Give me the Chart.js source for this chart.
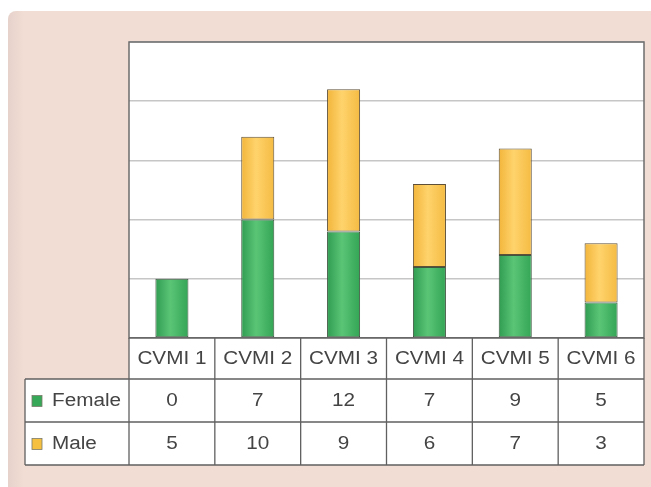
<!DOCTYPE html>
<html>
<head>
<meta charset="utf-8">
<script src="https://cdn.jsdelivr.net/npm/chart.js@4/dist/chart.umd.min.js"></script>
<style>
  html, body { margin: 0; padding: 0; background: #fff; overflow: hidden; }
  canvas { display: block; }
</style>
</head>
<body>
<canvas id="myCanvas" width="651" height="487"></canvas>
<script>
const categories = ['CVMI 1', 'CVMI 2', 'CVMI 3', 'CVMI 4', 'CVMI 5', 'CVMI 6'];
const female = [0, 7, 12, 7, 9, 5];
const male = [5, 10, 9, 6, 7, 3];
const yTicks = [0, 5, 10, 15, 20, 25];

// table rows as printed under the chart
const tableRows = [
  { label: 'Female', values: female, swatch: '#36a858' },
  { label: 'Male', values: male, swatch: '#f5c040' }
];

const barPct = 0.385;

// cylinder-ish shading across each bar
function shade(stops) {
  return function (context) {
    const chart = context.chart;
    const xs = chart.scales.x;
    if (!xs || !chart.chartArea) return stops[1];
    const cx = xs.getPixelForValue(context.dataIndex);
    const w = chart.chartArea.width / categories.length * barPct;
    const g = chart.ctx.createLinearGradient(cx - w / 2, 0, cx + w / 2, 0);
    g.addColorStop(0, stops[0]);
    g.addColorStop(0.45, stops[1]);
    g.addColorStop(1, stops[2]);
    return g;
  };
}

const panelPlugin = {
  id: 'panel',
  beforeDraw(chart) {
    const ctx = chart.ctx;
    const a = chart.chartArea;
    ctx.save();
    ctx.fillStyle = '#ffffff';
    ctx.fillRect(0, 0, chart.width, chart.height);
    // pink panel
    const grad = ctx.createLinearGradient(8, 0, 24, 0);
    grad.addColorStop(0, '#e6d2cb');
    grad.addColorStop(1, '#f1ddd3');
    ctx.fillStyle = grad;
    ctx.beginPath();
    ctx.roundRect(8, 11, chart.width - 8, chart.height - 11, [8, 0, 0, 0]);
    ctx.fill();
    // white plot area
    ctx.fillStyle = '#ffffff';
    ctx.fillRect(a.left, a.top, a.width, a.height);
    ctx.restore();
  },
  afterDatasetsDraw(chart) {
    const ctx = chart.ctx;
    const a = chart.chartArea;
    ctx.save();
    ctx.strokeStyle = '#6c6c6c';
    ctx.lineWidth = 1.5;
    ctx.strokeRect(a.left, a.top, a.width, a.height);
    ctx.restore();
  }
};

function drawText(ctx, str, x, y, align) {
  ctx.save();
  ctx.translate(x, y);
  ctx.scale(1.15, 1);
  ctx.textAlign = align;
  ctx.textBaseline = 'middle';
  ctx.fillText(str, 0, 0);
  ctx.restore();
}

const tablePlugin = {
  id: 'dataTable',
  afterDraw(chart) {
    const ctx = chart.ctx;
    const a = chart.chartArea;
    const xs = chart.scales.x;
    const colW = a.width / categories.length;
    const headH = 41, rowH = 43, labelLeft = 25;
    const top = a.bottom;
    const bottom = top + headH + rowH * tableRows.length;

    ctx.save();
    // cell backgrounds
    ctx.fillStyle = '#ffffff';
    ctx.fillRect(a.left, top, a.width, headH);
    ctx.fillRect(labelLeft, top + headH, a.right - labelLeft, rowH * tableRows.length);

    ctx.strokeStyle = '#606060';
    ctx.lineWidth = 1.3;
    ctx.beginPath();
    // horizontal lines
    ctx.moveTo(a.left, top); ctx.lineTo(a.right, top);
    for (let r = 0; r <= tableRows.length; r++) {
      const y = top + headH + rowH * r;
      ctx.moveTo(labelLeft, y); ctx.lineTo(a.right, y);
    }
    // vertical lines
    ctx.moveTo(labelLeft, top + headH); ctx.lineTo(labelLeft, bottom);
    for (let i = 0; i <= categories.length; i++) {
      const x = a.left + colW * i;
      ctx.moveTo(x, top); ctx.lineTo(x, bottom);
    }
    ctx.stroke();

    ctx.fillStyle = '#444444';
    ctx.font = '18px "Liberation Sans", Arial, sans-serif';
    categories.forEach((c, i) => {
      drawText(ctx, c, xs.getPixelForValue(i), top + headH / 2 + 1, 'center');
    });
    tableRows.forEach((row, r) => {
      const cy = top + headH + rowH * r + rowH / 2 + 1;
      ctx.fillStyle = row.swatch;
      ctx.fillRect(32, cy - 6, 10, 11);
      ctx.strokeStyle = '#7a7a6a';
      ctx.lineWidth = 0.8;
      ctx.strokeRect(32, cy - 6, 10, 11);
      ctx.fillStyle = '#444444';
      drawText(ctx, row.label, 52, cy, 'left');
      row.values.forEach((v, i) => {
        drawText(ctx, String(v), xs.getPixelForValue(i), cy, 'center');
      });
    });
    ctx.restore();
  }
};

// bars as drawn in the figure: lower (green) segment carries the Male counts,
// upper (yellow) segment the Female counts
const data = {
  labels: categories,
  datasets: [
    {
      label: 'Male',
      data: male,
      backgroundColor: shade(['#2f9c51', '#5bc576', '#33a455']),
      borderColor: '#3e5540',
      borderWidth: 1,
      borderSkipped: false,
      barPercentage: barPct,
      categoryPercentage: 1
    },
    {
      label: 'Female',
      data: female,
      backgroundColor: shade(['#f2b53a', '#ffd36c', '#f4bb42']),
      borderColor: '#5e5038',
      borderWidth: 1,
      borderSkipped: false,
      barPercentage: barPct,
      categoryPercentage: 1
    }
  ]
};

const configurationOptions = {
  type: 'bar',
  data: data,
  options: {
    responsive: false,
    devicePixelRatio: 1,
    animation: false,
    layout: {
      padding: { left: 129, right: 7, top: 42, bottom: 149 }
    },
    plugins: {
      legend: { display: false },
      tooltip: { enabled: false }
    },
    scales: {
      x: {
        stacked: true,
        display: false
      },
      y: {
        stacked: true,
        min: yTicks[0],
        max: yTicks[yTicks.length - 1],
        afterBuildTicks: (scale) => { scale.ticks = yTicks.map(v => ({ value: v })); },
        afterFit: (scale) => { scale.width = 0; },
        ticks: { display: false },
        border: { display: false },
        grid: {
          color: '#c6c6c6',
          lineWidth: 1.5,
          drawTicks: false
        }
      }
    }
  },
  plugins: [panelPlugin, tablePlugin]
};

const ctx = document.getElementById('myCanvas');
const myChart = new Chart(ctx, configurationOptions);
</script>
</body>
</html>
